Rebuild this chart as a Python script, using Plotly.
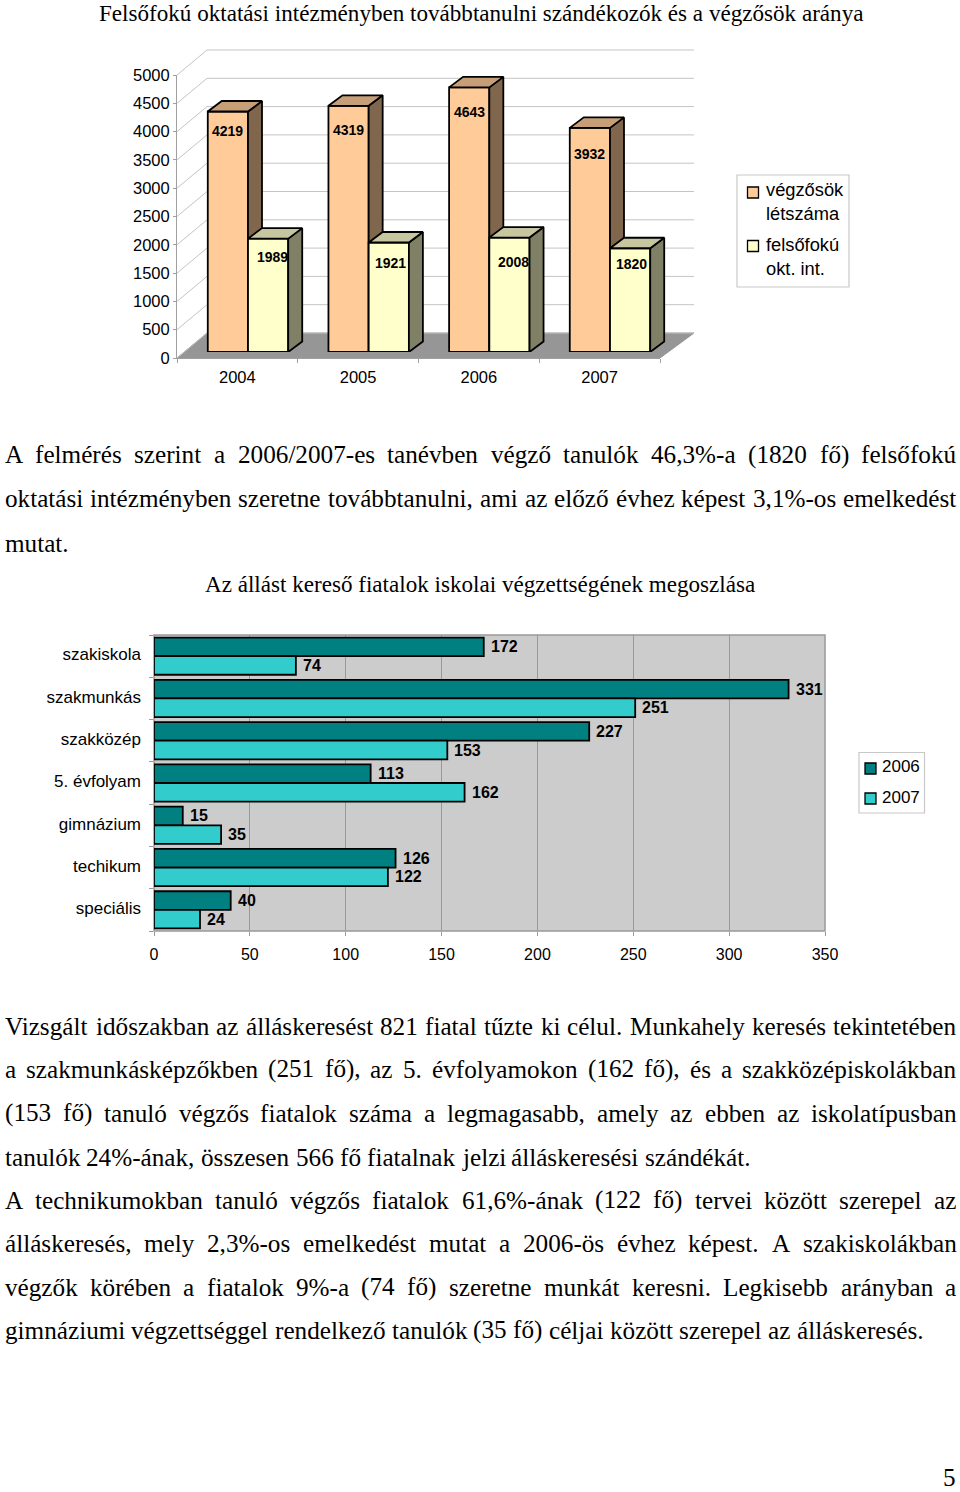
import plotly.graph_objects as go

W, H = 960, 1492

# ---------- data ----------
years = ["2004", "2005", "2006", "2007"]
vegzosok = [4219, 4319, 4643, 3932]
felsofoku = [1989, 1921, 2008, 1820]
y_ticks_top = [0, 500, 1000, 1500, 2000, 2500, 3000, 3500, 4000, 4500, 5000]

kategoriak = ["szakiskola", "szakmunkás", "szakközép", "5. évfolyam", "gimnázium", "techikum", "speciális"]
ev2006 = [172, 331, 227, 113, 15, 126, 40]
ev2007 = [74, 251, 153, 162, 35, 122, 24]
x_ticks_bottom = [0, 50, 100, 150, 200, 250, 300, 350]

title_top = "Felsőfokú oktatási intézményben továbbtanulni szándékozók és a végzősök aránya"
title_bottom = "Az állást kereső fiatalok iskolai végzettségének megoszlása"
para_1 = [
    "A felmérés szerint a 2006/2007-es tanévben végző tanulók 46,3%-a (1820 fő) felsőfokú",
    "oktatási intézményben szeretne továbbtanulni, ami az előző évhez képest 3,1%-os emelkedést",
    "mutat.",
]
para_2 = [
    "Vizsgált időszakban az álláskeresést 821 fiatal tűzte ki célul. Munkahely keresés tekintetében",
    "a szakmunkásképzőkben (251 fő), az 5. évfolyamokon (162 fő), és a szakközépiskolákban",
    "(153 fő) tanuló végzős fiatalok száma a legmagasabb, amely az ebben az iskolatípusban",
    "tanulók 24%-ának, összesen 566 fő fiatalnak jelzi álláskeresési szándékát.",
]
para_3 = [
    "A technikumokban tanuló végzős fiatalok 61,6%-ának (122 fő) tervei között szerepel az",
    "álláskeresés, mely 2,3%-os emelkedést mutat a 2006-ös évhez képest. A szakiskolákban",
    "végzők körében a fiatalok 9%-a (74 fő) szeretne munkát keresni. Legkisebb arányban a",
    "gimnáziumi végzettséggel rendelkező tanulók (35 fő) céljai között szerepel az álláskeresés.",
]
page_number = "5"

# ---------- style / layout constants ----------
SANS = "Liberation Sans"
SERIF = "Liberation Serif"
BODY = 25.2
OUTLINE = 1.8

def px(x):
    return x / W

def py(y):
    return 1 - y / H

# Times metric widths for the justified body text
TW = dict(zip("abcdefghijklmnopqrstuvwxyz",
              [444, 500, 444, 500, 444, 333, 500, 500, 278, 278, 500, 278, 778, 500, 500, 500, 500, 333, 389, 278, 500, 500, 722, 500, 500, 444]))
TW.update({"á": 444, "é": 444, "í": 278, "ó": 500, "ö": 500, "ő": 500, "ú": 500, "ü": 500, "ű": 500,
           "A": 722, "L": 611, "M": 889, "V": 722, "F": 556, ",": 250, ".": 250, "-": 333, "%": 833,
           "(": 333, ")": 333, "/": 278})
for d in "0123456789":
    TW[d] = 500

def word_w(w):
    return sum(TW.get(c, 500) for c in w) / 1000 * BODY

annotations = []

def text_at(x, y, s, size, family=SANS, anchor="center", color="#000", bold=False):
    annotations.append(dict(x=px(x), y=py(y), xref="paper", yref="paper", text=s, showarrow=False,
                            xanchor=anchor, yanchor="middle", borderpad=0,
                            font=dict(family=family, size=size, color=color,
                                      weight="bold" if bold else "normal")))

def body_line(line, y, justified=True, left=3.5, right=955.5):
    words = line.split(" ")
    widths = [word_w(w) for w in words]
    gap = (right - left - sum(widths)) / (len(words) - 1) if justified and len(words) > 1 else 0.25 * BODY
    x = left
    for w, ww in zip(words, widths):
        text_at(x, y, w, BODY, SERIF, "left")
        x += ww + gap

text_at(480.5, 13, title_top, 23.1, SERIF)
text_at(480, 584, title_bottom, 23.1, SERIF)
for line, y, j in zip(para_1, [455, 499, 543], [True, True, False]):
    body_line(line, y, j)
for line, y, j in zip(para_2, [1026, 1069, 1113, 1157], [True, True, True, False]):
    body_line(line, y, j)
for line, y, j in zip(para_3, [1200, 1243, 1287, 1330], [True, True, True, False]):
    body_line(line, y, j)
text_at(949, 1477, page_number, BODY, SERIF)

fig = go.Figure()
n = len(years)
idx = list(range(n))

# ---------- top chart: scales ----------
PX_PER_CAT = 120.67
PX_PER_VAL = 283 / 5000
FRAME_L, FRAME_B = 177, 358
WALL_DX, WALL_DY = 30, 25
RIGHT_FRONT = 660

frame_right, frame_top = 700, 45
fx_range = [0, (frame_right - FRAME_L) / PX_PER_CAT]
fy_range = [0, (FRAME_B - frame_top) / PX_PER_VAL]
wdx = WALL_DX / PX_PER_CAT
wdy = WALL_DY / PX_PER_VAL
front_r = (RIGHT_FRONT - FRAME_L) / PX_PER_CAT
back_r = (694 - FRAME_L) / PX_PER_CAT

# floor
fig.add_trace(go.Scatter(x=[0, front_r, back_r, wdx, 0], y=[0, 0, wdy, wdy, 0], mode="lines", fill="toself",
                         fillcolor="#969696", line=dict(color="#969696", width=1), xaxis="x", yaxis="y",
                         hoverinfo="skip", showlegend=False))
# wall grid with side diagonals
gx, gy = [], []
for v in y_ticks_top:
    gx += [0, wdx, back_r, None]
    gy += [v, v + wdy, v + wdy, None]
fig.add_trace(go.Scatter(x=gx, y=gy, mode="lines", line=dict(color="#c4c4c4", width=1), xaxis="x", yaxis="y",
                         hoverinfo="skip", showlegend=False))
# tick-bearing front axes
fig.add_trace(go.Scatter(x=idx, y=vegzosok, mode="markers", marker=dict(opacity=0), xaxis="x2", yaxis="y2",
                         hoverinfo="skip", showlegend=False))

BAR_W = 1 / 3
DDX = 14 / PX_PER_CAT
BAR_SCALE = 0.057
DDY = 10.5 / BAR_SCALE

def add_series(vals, name, front, side, top, offset, ax, ay):
    fig.add_trace(go.Bar(x=idx, y=vals, name=name, width=BAR_W, offset=offset, xaxis=ax, yaxis=ay,
                         marker=dict(color=front, line=dict(color="#000", width=OUTLINE)), showlegend=False))
    sx, sy, tx, ty = [], [], [], []
    for i, v in zip(idx, vals):
        l = i + offset
        r = l + BAR_W
        sx += [r, r + DDX, r + DDX, r, r, None]
        sy += [0, DDY, v + DDY, v, 0, None]
        tx += [l, l + DDX, r + DDX, r, l, None]
        ty += [v, v + DDY, v + DDY, v, v, None]
    for xs, ys, c in ((sx, sy, side), (tx, ty, top)):
        fig.add_trace(go.Scatter(x=xs, y=ys, mode="lines", fill="toself", fillcolor=c,
                                 line=dict(color="#000", width=OUTLINE), xaxis=ax, yaxis=ay,
                                 hoverinfo="skip", showlegend=False))

add_series(vegzosok, "végzősök létszáma", "#FFCC99", "#80664D", "#C69F78", -BAR_W, "x3", "y3")
add_series(felsofoku, "felsőfokú okt. int.", "#FFFFCC", "#808066", "#C6C6A0", 0, "x4", "y4")

label_shift_o = [-19, -24, -25, -26]
label_shift_y = [-18, -21, -24, -16]
label_nudge_y = [4, 2, 4, 1]
for i, v, s in zip(idx, vegzosok, label_shift_o):
    annotations.append(dict(x=i - BAR_W / 2, y=v, xref="x3", yref="y3", text=str(v), showarrow=False, yshift=s,
                            font=dict(family=SANS, size=14, color="#000", weight="bold")))
for i, v, s, nx in zip(idx, felsofoku, label_shift_y, label_nudge_y):
    annotations.append(dict(x=i + BAR_W / 2, y=v, xref="x4", yref="y4", text=str(v), showarrow=False, yshift=s, xshift=nx,
                            font=dict(family=SANS, size=14, color="#000", weight="bold")))

# ---------- bottom chart ----------
yidx = list(range(len(kategoriak)))
HB = 0.44
for vals, name, col, off in ((ev2006, "2006", "#008080", -HB), (ev2007, "2007", "#33CCCC", 0)):
    fig.add_trace(go.Bar(y=yidx, x=vals, name=name, orientation="h", width=HB, offset=off, xaxis="x5", yaxis="y5",
                         marker=dict(color=col, line=dict(color="#000", width=OUTLINE)), showlegend=False))
    for i, v in zip(yidx, vals):
        annotations.append(dict(x=v, y=i + off + HB / 2, xref="x5", yref="y5", text=str(v), showarrow=False,
                                xanchor="left", xshift=6, borderpad=0,
                                font=dict(family=SANS, size=16, color="#000", weight="bold")))

# ---------- hand-drawn chart frames and legends ----------
shapes = [
    dict(type="rect", xref="paper", yref="paper", x0=px(154), x1=px(825), y0=py(931), y1=py(635), layer="below",
         fillcolor="#CCCCCC", line=dict(color="#999999", width=1.5)),
    dict(type="rect", xref="paper", yref="paper", x0=px(737), x1=px(849), y0=py(287), y1=py(175), layer="below",
         fillcolor="#FFFFFF", line=dict(color="#C8C8C8", width=1.2)),
    dict(type="rect", xref="paper", yref="paper", x0=px(859), x1=px(924.5), y0=py(813), y1=py(752.5), layer="below",
         fillcolor="#FFFFFF", line=dict(color="#C8C8C8", width=1.2)),
]
def swatch(x0, y0, c):
    shapes.append(dict(type="rect", xref="paper", yref="paper", x0=px(x0), x1=px(x0 + 11), y0=py(y0 + 11), y1=py(y0),
                       fillcolor=c, line=dict(color="#000", width=1.3)))

swatch(747.5, 187, "#FFCC99")
swatch(747.5, 240.5, "#FFFFCC")
swatch(865, 763, "#008080")
swatch(865, 793, "#33CCCC")
for s, y in (("végzősök", 189.5), ("létszáma", 213), ("felsőfokú", 244.5), ("okt. int.", 268)):
    text_at(765, y, s, 18.3, SANS, "left")
for s, y in (("2006", 767), ("2007", 797)):
    text_at(881, y, s, 17, SANS, "left")

tickfont = dict(family=SANS, size=16.5, color="#000")
hidden = dict(visible=False, showgrid=False, zeroline=False, automargin=False)

fig.update_layout(
    template="none",
    width=W, height=H, autosize=False, margin=dict(l=0, r=0, t=0, b=0, pad=0), paper_bgcolor="#FFFFFF",
    plot_bgcolor="rgba(0,0,0,0)", barmode="overlay", showlegend=False,
    annotations=annotations, shapes=shapes,
    xaxis=dict(domain=[px(FRAME_L), px(frame_right)], range=fx_range, anchor="y", **hidden),
    yaxis=dict(domain=[py(FRAME_B), py(frame_top)], range=fy_range, anchor="x", **hidden),
    xaxis2=dict(domain=[px(FRAME_L), px(RIGHT_FRONT)], range=[-0.5, 3.5], anchor="y2", tickmode="array", tickvals=idx,
                ticktext=years, ticks="", ticklen=0, ticklabelstandoff=4, tickfont=tickfont, showgrid=False, zeroline=False,
                showline=True, linecolor="#A0A0A0", linewidth=1, automargin=False,
                minor=dict(tickmode="array", tickvals=[-0.5, 0.5, 1.5, 2.5, 3.5], ticks="outside", ticklen=4, tickcolor="#A0A0A0", showgrid=False)),
    yaxis2=dict(domain=[py(FRAME_B), py(75)], range=[0, 5000], anchor="x2", tickmode="array", tickvals=y_ticks_top,
                ticks="outside", ticklen=3, tickcolor="#A0A0A0", tickfont=tickfont, showgrid=False, zeroline=False,
                showline=True, linecolor="#A0A0A0", linewidth=1, automargin=False),
    xaxis3=dict(domain=[px(187.67), px(670.33)], range=[-0.5, 3.5], anchor="y3", **hidden),
    yaxis3=dict(domain=[py(352), py(352 - 5000 * BAR_SCALE)], range=[0, 5000], anchor="x3", **hidden),
    xaxis4=dict(domain=[px(187.67), px(670.33)], range=[-0.5, 3.5], anchor="y4", **hidden),
    yaxis4=dict(domain=[py(352), py(352 - 5000 * BAR_SCALE)], range=[0, 5000], anchor="x4", **hidden),
    xaxis5=dict(domain=[px(154), px(825)], range=[0, 350], anchor="y5", tickmode="array", tickvals=x_ticks_bottom,
                ticks="outside", ticklen=4, tickcolor="#999999", ticklabelstandoff=5, tickfont=dict(family=SANS, size=16, color="#000"),
                showgrid=True, gridcolor="#999999", gridwidth=1, zeroline=False, showline=False, automargin=False),
    yaxis5=dict(domain=[py(931), py(635)], range=[6.5, -0.5], anchor="x5", tickmode="array", tickvals=[i - 0.04 for i in yidx], ticktext=kategoriak,
                ticks="", ticklen=0, ticklabelstandoff=12, tickfont=dict(family=SANS, size=17, color="#000"), showgrid=False, zeroline=False,
                showline=False, automargin=False,
                minor=dict(tickmode="array", tickvals=[i - 0.5 for i in range(8)], ticks="outside", ticklen=4, tickcolor="#999999", showgrid=False)),
)

fig.write_html("out.html", config={"displayModeBar": False},
               post_script="document.body.style.margin='0';document.body.style.overflow='hidden';")
